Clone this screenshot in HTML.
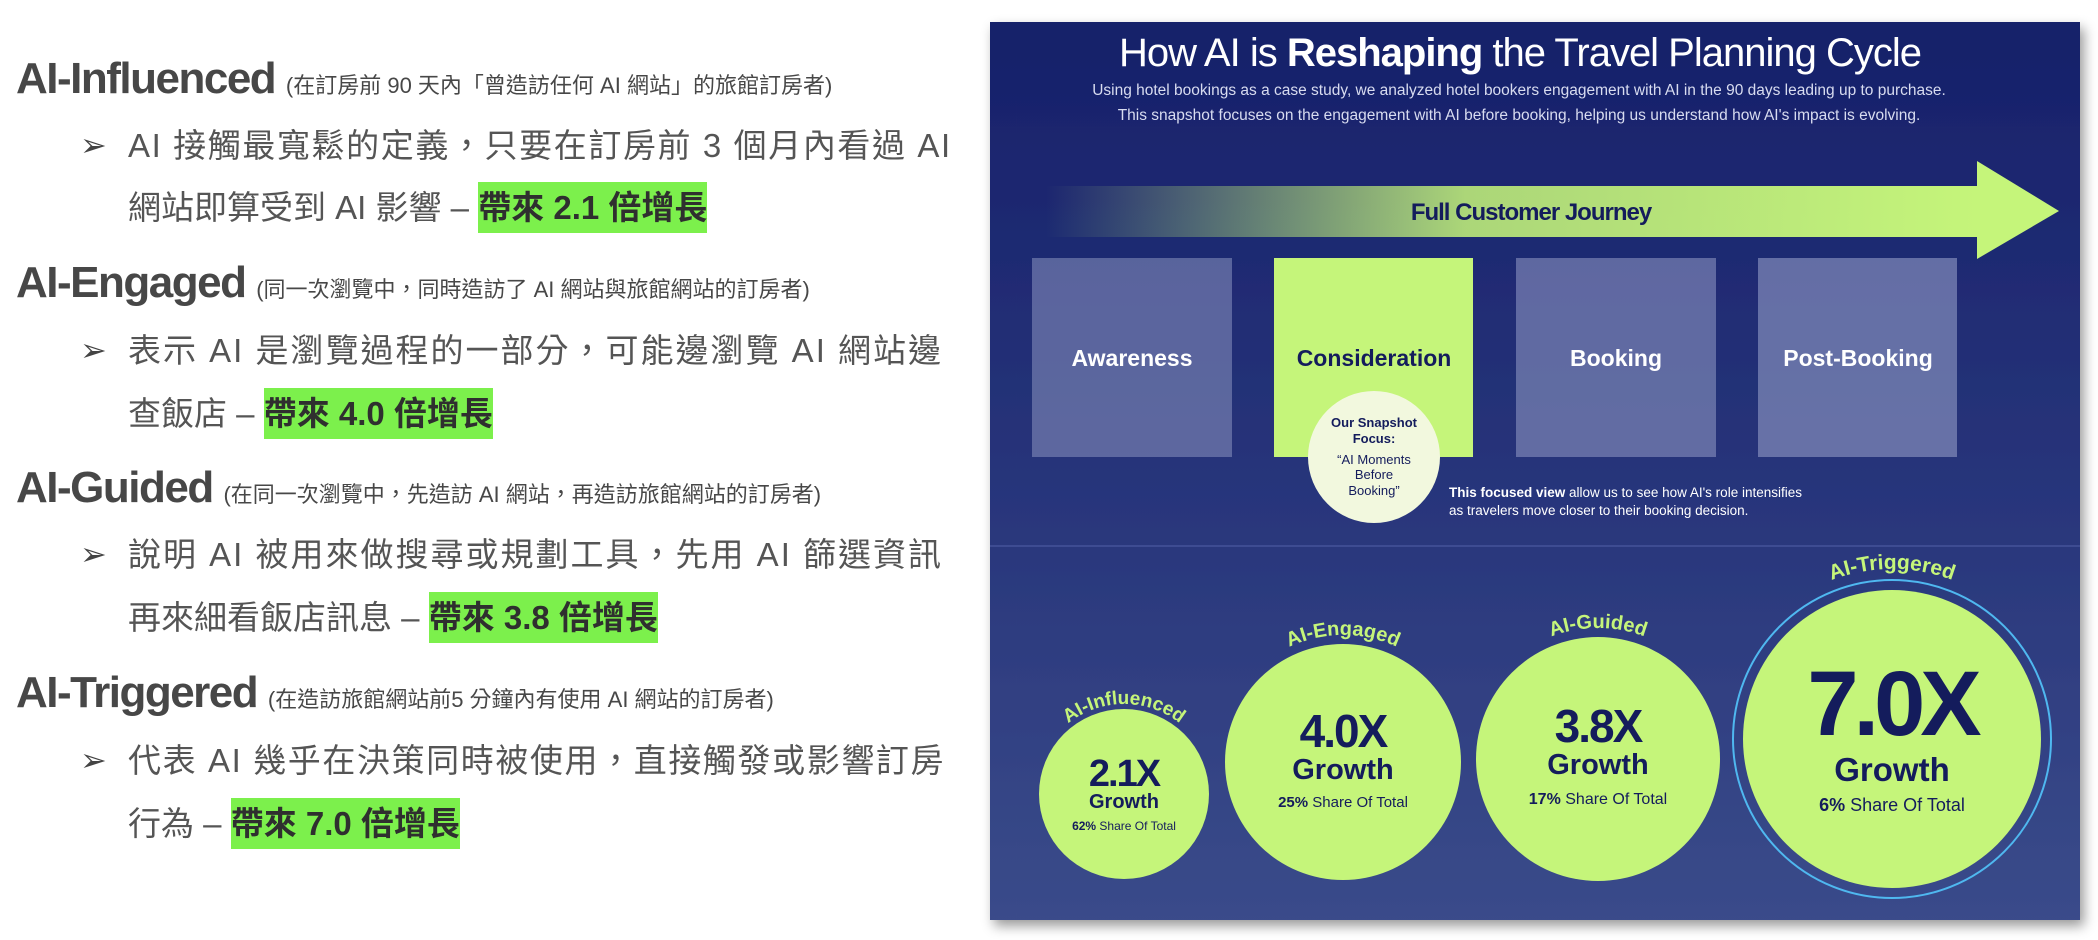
<!DOCTYPE html>
<html><head><meta charset="utf-8"><style>
body{margin:0;width:2098px;height:940px;background:#fff;position:relative;overflow:hidden;font-family:"Liberation Sans","Noto Sans CJK TC",sans-serif;}
.h{position:absolute;left:16px;color:#474747;font-weight:bold;font-size:44px;white-space:nowrap;letter-spacing:-1.5px;line-height:1}
.h small{font-size:22px;font-weight:normal;letter-spacing:0}
.b{position:absolute;left:128px;color:#555;font-size:33px;white-space:nowrap;line-height:1}
.ar{position:absolute;left:80px;color:#444;font-size:32px;line-height:1}
.g{background:#7cf04c;color:#2f2f2f;font-weight:bold;padding:7px 0}
</style></head><body>
<div class="h" style="top:57px">AI-Influenced <small>(在訂房前 90 天內「曾造訪任何 AI 網站」的旅館訂房者)</small></div>
<div class="ar" style="top:129px">➢</div>
<div class="b" style="top:129px;letter-spacing:1.6px">AI 接觸最寬鬆的定義，只要在訂房前 3 個月內看過 AI</div>
<div class="b" style="top:191px">網站即算受到 AI 影響 – <span class="g">帶來 2.1 倍增長</span></div>

<div class="h" style="top:261px">AI-Engaged <small>(同一次瀏覽中，同時造訪了 AI 網站與旅館網站的訂房者)</small></div>
<div class="ar" style="top:334px">➢</div>
<div class="b" style="top:334px;letter-spacing:2px">表示 AI 是瀏覽過程的一部分，可能邊瀏覽 AI 網站邊</div>
<div class="b" style="top:397px">查飯店 – <span class="g">帶來 4.0 倍增長</span></div>

<div class="h" style="top:466px">AI-Guided <small>(在同一次瀏覽中，先造訪 AI 網站，再造訪旅館網站的訂房者)</small></div>
<div class="ar" style="top:538px">➢</div>
<div class="b" style="top:538px;letter-spacing:2px">說明 AI 被用來做搜尋或規劃工具，先用 AI 篩選資訊</div>
<div class="b" style="top:601px">再來細看飯店訊息 – <span class="g">帶來 3.8 倍增長</span></div>

<div class="h" style="top:671px">AI-Triggered <small>(在造訪旅館網站前5 分鐘內有使用 AI 網站的訂房者)</small></div>
<div class="ar" style="top:744px">➢</div>
<div class="b" style="top:744px;letter-spacing:1.6px">代表 AI 幾乎在決策同時被使用，直接觸發或影響訂房</div>
<div class="b" style="top:807px">行為 – <span class="g">帶來 7.0 倍增長</span></div>

<svg width="2098" height="940" style="position:absolute;left:0;top:0" font-family="Liberation Sans, sans-serif">
<defs>
<linearGradient id="bg" x1="0" y1="0" x2="0" y2="1"><stop offset="0" stop-color="#16206a"/><stop offset="0.5" stop-color="#27347a"/><stop offset="1" stop-color="#3a4b8a"/></linearGradient>
<linearGradient id="arr" x1="1046" y1="0" x2="1977" y2="0" gradientUnits="userSpaceOnUse"><stop offset="0" stop-color="#c5f57a" stop-opacity="0"/><stop offset="0.45" stop-color="#c5f57a" stop-opacity="0.85"/><stop offset="1" stop-color="#c5f57a"/></linearGradient>
<path id="a1" d="M1034,794 A90,90 0 0 1 1214,794"/>
<path id="a2" d="M1216,762 A127,127 0 0 1 1470,762"/>
<path id="a3" d="M1467,759 A131,131 0 0 1 1729,759"/>
<path id="a4" d="M1722,739 A170,170 0 0 1 2062,739"/>
<filter id="sh"><feDropShadow dx="4" dy="6" stdDeviation="6" flood-color="#000" flood-opacity="0.4"/></filter>
</defs>
<rect x="990" y="22" width="1090" height="898" fill="url(#bg)" filter="url(#sh)"/>
<line x1="990" y1="546" x2="2080" y2="546" stroke="#3e4c92" stroke-width="2"/>
<text x="1520" y="66" text-anchor="middle" fill="#fff" font-size="40" letter-spacing="-1">How AI is <tspan font-weight="bold">Reshaping</tspan> the Travel Planning Cycle</text>
<text x="1519" y="95" text-anchor="middle" fill="#d8dcf0" font-size="15.5">Using hotel bookings as a case study, we analyzed hotel bookers engagement with AI in the 90 days leading up to purchase.</text>
<text x="1519" y="120" text-anchor="middle" fill="#d8dcf0" font-size="15.5">This snapshot focuses on the engagement with AI before booking, helping us understand how AI's impact is evolving.</text>
<rect x="1046" y="186" width="932" height="51" fill="url(#arr)"/>
<polygon points="1977,161 2059,211 1977,259" fill="#c5f57a"/>
<text x="1531" y="220" text-anchor="middle" fill="#141c5c" font-size="24" font-weight="bold" letter-spacing="-1">Full Customer Journey</text>
<rect x="1032" y="258" width="200" height="199" fill="#8a93c0" opacity="0.55"/>
<rect x="1274" y="258" width="199" height="199" fill="#c5f57a"/>
<rect x="1516" y="258" width="200" height="199" fill="#8a93c0" opacity="0.6"/>
<rect x="1758" y="258" width="199" height="199" fill="#8a93c0" opacity="0.65"/>
<g font-size="23" font-weight="bold" text-anchor="middle">
<text x="1132" y="366" fill="#fff">Awareness</text>
<text x="1374" y="366" fill="#141c5c">Consideration</text>
<text x="1616" y="366" fill="#fff">Booking</text>
<text x="1858" y="366" fill="#fff">Post-Booking</text>
</g>
<circle cx="1374" cy="457" r="66" fill="#f2f8de"/>
<g text-anchor="middle" fill="#141c5c" font-size="13">
<text x="1374" y="427" font-weight="bold">Our Snapshot</text>
<text x="1374" y="443" font-weight="bold">Focus:</text>
<text x="1374" y="464">“AI Moments</text>
<text x="1374" y="479">Before</text>
<text x="1374" y="495">Booking”</text>
</g>
<text x="1449" y="497" fill="#fff" font-size="13.5"><tspan font-weight="bold">This focused view</tspan> allow us to see how AI's role intensifies</text>
<text x="1449" y="515" fill="#fff" font-size="13.5">as travelers move closer to their booking decision.</text>

<circle cx="1892" cy="739" r="159" fill="none" stroke="#4fb8f0" stroke-width="2"/>
<circle cx="1124" cy="794" r="85" fill="#c5f57a"/>
<circle cx="1343" cy="762" r="118" fill="#c5f57a"/>
<circle cx="1598" cy="759" r="122" fill="#c5f57a"/>
<circle cx="1892" cy="739" r="149" fill="#c5f57a"/>
<g fill="#c5f57a" font-weight="bold" text-anchor="middle">
<text font-size="19"><textPath href="#a1" startOffset="50%">AI-Influenced</textPath></text>
<text font-size="20"><textPath href="#a2" startOffset="50%">AI-Engaged</textPath></text>
<text font-size="20"><textPath href="#a3" startOffset="50%">AI-Guided</textPath></text>
<text font-size="21"><textPath href="#a4" startOffset="50%">AI-Triggered</textPath></text>
</g>
<g fill="#141c5c" text-anchor="middle" font-weight="bold">
<text x="1124" y="786" font-size="38" letter-spacing="-2">2.1X</text>
<text x="1124" y="808" font-size="20">Growth</text>
<text x="1124" y="830" font-size="12" font-weight="normal"><tspan font-weight="bold">62%</tspan> Share Of Total</text>
<text x="1343" y="747" font-size="46" letter-spacing="-2">4.0X</text>
<text x="1343" y="779" font-size="29">Growth</text>
<text x="1343" y="807" font-size="15" font-weight="normal"><tspan font-weight="bold">25%</tspan> Share Of Total</text>
<text x="1598" y="742" font-size="46" letter-spacing="-2">3.8X</text>
<text x="1598" y="774" font-size="29">Growth</text>
<text x="1598" y="804" font-size="16" font-weight="normal"><tspan font-weight="bold">17%</tspan> Share Of Total</text>
<text x="1892" y="735" font-size="92" letter-spacing="-5">7.0X</text>
<text x="1892" y="781" font-size="33">Growth</text>
<text x="1892" y="811" font-size="18" font-weight="normal"><tspan font-weight="bold">6%</tspan> Share Of Total</text>
</g>
</svg>
</body></html>
